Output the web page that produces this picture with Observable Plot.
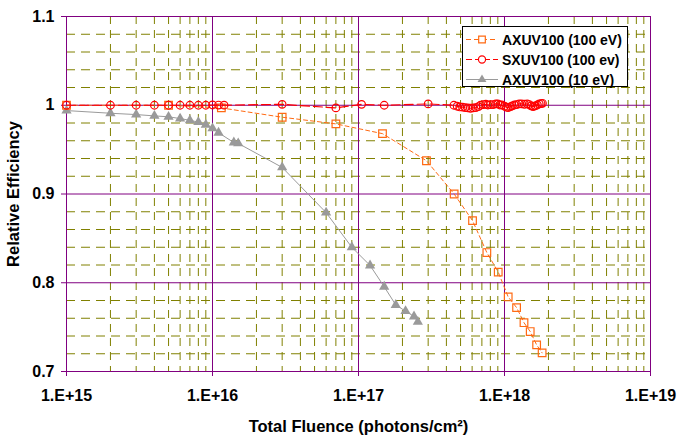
<!DOCTYPE html>
<html>
<head>
<meta charset="utf-8">
<script src="https://cdn.jsdelivr.net/npm/d3@7"></script>
<script src="https://cdn.jsdelivr.net/npm/@observablehq/plot@0.6"></script>
<style>
  body { margin: 0; background: #fff; }
  #chart svg { font-family: "Liberation Sans", Arial, sans-serif; }
</style>
</head>
<body>
<div id="chart"></div>
<script>
// AXUV100 photodiode, 100 eV exposure (squares, short dashes)
const axuv100Fluence = [1e15, 5e15, 1.15e16, 3e16, 7e16, 1.46e17, 2.92e17, 4.52e17, 6.04e17,
  7.57e17, 9.06e17, 1.06e18, 1.21e18, 1.36e18, 1.50e18, 1.66e18, 1.81e18];
const axuv100Eff = [1.0, 1.0, 0.997, 0.9865, 0.979, 0.968, 0.9375, 0.900, 0.870,
  0.834, 0.812, 0.784, 0.772, 0.755, 0.745, 0.730, 0.721];

// SXUV100 photodiode, 100 eV exposure (circles, long dashes)
const sxuv100Fluence = [1e15, 2e15, 3e15, 4e15, 5e15, 6e15, 7e15, 8e15, 9e15, 1e16, 1.1e16, 1.2e16,
  3e16, 7e16, 1.05e17, 1.5e17, 3e17,
  4.50e17, 4.74e17, 4.94e17, 5.16e17, 5.38e17, 5.61e17, 5.85e17, 6.10e17, 6.36e17, 6.63e17,
  6.85e17, 7.14e17, 7.45e17, 7.69e17, 8.02e17, 8.36e17, 8.72e17, 9.00e17, 9.29e17, 9.59e17,
  1.00e18, 1.03e18, 1.06e18, 1.10e18, 1.13e18, 1.17e18, 1.21e18, 1.26e18, 1.31e18, 1.37e18,
  1.43e18, 1.48e18, 1.52e18, 1.57e18, 1.62e18, 1.68e18, 1.73e18, 1.78e18, 1.82e18];
const sxuv100Eff = [1.0, 1.0, 1.0, 1.0, 1.0, 1.0, 1.0, 1.0, 1.0, 1.0003, 1.0002, 1.0001,
  1.001, 0.997, 1.001, 1.0, 1.0015,
  1.000, 0.9989, 0.9981, 0.9978, 0.9974, 0.997, 0.9966, 0.997, 0.9974, 0.9985,
  1.000, 1.0008, 1.0011, 1.0003, 1.0008, 1.0008, 1.0015, 1.0015, 1.0003, 1.0003,
  0.9989, 0.9978, 0.9974, 0.9985, 0.9993, 1.0003, 1.0008, 1.0015, 1.0015, 1.0011,
  1.0015, 1.0008, 0.9993, 0.9985, 0.9993, 1.0003, 1.0015, 1.0019, 1.0022];

// AXUV100 photodiode, 10 eV exposure (filled triangles, solid line)
const axuv10Fluence = [1e15, 2e15, 3e15, 4e15, 5e15, 6e15, 7e15, 8e15, 9e15, 1e16, 1.1e16,
  1.4e16, 1.5e16, 3e16, 6e16, 9e16, 1.2e17, 1.5e17, 1.8e17, 2.1e17, 2.4e17, 2.55e17];
const axuv10Eff = [0.994, 0.991, 0.9895, 0.988, 0.987, 0.985, 0.983, 0.981, 0.978, 0.974, 0.969,
  0.958, 0.957, 0.930, 0.879, 0.840, 0.8195, 0.7955, 0.775, 0.768, 0.762, 0.756];

const seriesNames = ["AXUV100 (100 eV)", "SXUV100 (100 ev)", "AXUV100 (10 eV)"];

// Axis ticks and labels
const xTicks = [1e15, 1e16, 1e17, 1e18, 1e19];
const xTickLabels = ["1.E+15", "1.E+16", "1.E+17", "1.E+18", "1.E+19"];
const yTicks = [0.7, 0.8, 0.9, 1.0, 1.1];
const yTickLabels = ["0.7", "0.8", "0.9", "1", "1.1"];
const xTitle = "Total Fluence (photons/cm²)";
const yTitle = "Relative Efficiency";

const toRows = (name, xs, ys) => xs.map((x, i) => ({series: name, fluence: x, eff: ys[i]}));
const axuv100 = toRows(seriesNames[0], axuv100Fluence, axuv100Eff);
const sxuv100 = toRows(seriesNames[1], sxuv100Fluence, sxuv100Eff);
const axuv10 = toRows(seriesNames[2], axuv10Fluence, axuv10Eff);

// Gridlines: minor at 2..9 per decade and every 0.02 in efficiency
const minorX = [];
for (let e = 15; e < 19; e++) for (let m = 2; m <= 9; m++) minorX.push(m * Math.pow(10, e));
const minorY = d3.range(36, 55).map(k => k / 50).filter(v => Math.abs(v * 10 - Math.round(v * 10)) > 1e-6);

const ORANGE = "#ff6a13", RED = "#ff0000", GRAY = "#9a9a9a";
const OLIVE = "#808000", PURPLE = "#800080";
const FONT = "'Liberation Sans', Arial, sans-serif";

const chart = Plot.plot({
  width: 677,
  height: 436,
  marginLeft: 66,
  marginRight: 27,
  marginTop: 16,
  marginBottom: 65,
  style: {fontFamily: FONT, fontSize: "16px", fontWeight: "bold", color: "#000", background: "#fff"},
  x: {type: "log", domain: [1e15, 1e19]},
  y: {domain: [0.7, 1.1]},
  marks: [
    Plot.ruleY(minorY, {stroke: OLIVE, strokeDasharray: "9,6"}),
    Plot.ruleX(minorX, {stroke: OLIVE, strokeDasharray: "8,6"}),
    Plot.ruleY(yTicks, {stroke: PURPLE}),
    Plot.ruleX(xTicks, {stroke: PURPLE}),
    Plot.axisY(yTicks, {
      tickSize: 5, tickPadding: 7, stroke: PURPLE, fill: "#000",
      tickFormat: d => yTickLabels[yTicks.indexOf(d)],
      label: yTitle, labelAnchor: "center", labelArrow: "none", labelOffset: 59, fontSize: 16
    }),
    Plot.axisX(xTicks, {
      tickSize: 5, tickPadding: 13, stroke: PURPLE, fill: "#000",
      tickFormat: d => xTickLabels[xTicks.indexOf(d)],
      label: xTitle, labelAnchor: "center", labelArrow: "none", labelOffset: 60, fontSize: 16
    }),
    Plot.line(axuv10, {x: "fluence", y: "eff", stroke: GRAY, strokeWidth: 1}),
    Plot.dot(axuv10, {x: "fluence", y: "eff", symbol: "triangle", r: 3.8, fill: GRAY, stroke: "none"}),
    Plot.line(axuv100, {x: "fluence", y: "eff", stroke: ORANGE, strokeWidth: 1, strokeDasharray: "4,3"}),
    Plot.dot(axuv100, {x: "fluence", y: "eff", symbol: "square", r: 4.3, fill: "none", stroke: ORANGE, strokeWidth: 1.2}),
    Plot.line(sxuv100, {x: "fluence", y: "eff", stroke: RED, strokeWidth: 1.2, strokeDasharray: "9,4"}),
    Plot.dot(sxuv100, {x: "fluence", y: "eff", symbol: "circle", r: 3.8, fill: "none", stroke: RED, strokeWidth: 1.2})
  ]
});

// Axis titles a touch larger than the tick labels
d3.select(chart).selectAll("text").filter(function () {
  const t = this.textContent;
  return t === xTitle || t === yTitle;
}).attr("font-size", 16.5);

// Legend box in the upper right of the plot area
const legend = d3.select(chart).append("g")
  .attr("font-family", FONT).attr("font-size", 14).attr("font-weight", "bold")
  .attr("text-anchor", "start");
legend.append("rect").attr("x", 462.5).attr("y", 26.5).attr("width", 165).attr("height", 60)
  .attr("fill", "#fff").attr("stroke", "#000").attr("stroke-width", 1);
const entries = [
  {name: seriesNames[0], color: ORANGE, dash: "5,3", symbol: d3.symbolSquare, size: 44, fill: "none"},
  {name: seriesNames[1], color: RED, dash: "6,3", symbol: d3.symbolCircle, size: 40, fill: "none"},
  {name: seriesNames[2], color: GRAY, dash: null, symbol: d3.symbolTriangle, size: 34, fill: GRAY}
];
entries.forEach((e, i) => {
  const cy = 39.5 + i * 20;
  const g = legend.append("g");
  g.append("line").attr("x1", 466).attr("x2", 498).attr("y1", cy).attr("y2", cy)
    .attr("stroke", e.color).attr("stroke-width", 1).attr("stroke-dasharray", e.dash);
  g.append("path").attr("transform", `translate(482,${cy})`)
    .attr("d", d3.symbol(e.symbol, e.size)())
    .attr("fill", e.fill === "none" ? "#fff" : e.fill)
    .attr("stroke", e.fill === "none" ? e.color : "none").attr("stroke-width", 1.2);
  g.append("text").attr("x", 502).attr("y", cy).attr("dy", "0.36em")
    .attr("fill", "#000").attr("text-anchor", "start").text(e.name);
});

document.getElementById("chart").appendChild(chart);
</script>
</body>
</html>
